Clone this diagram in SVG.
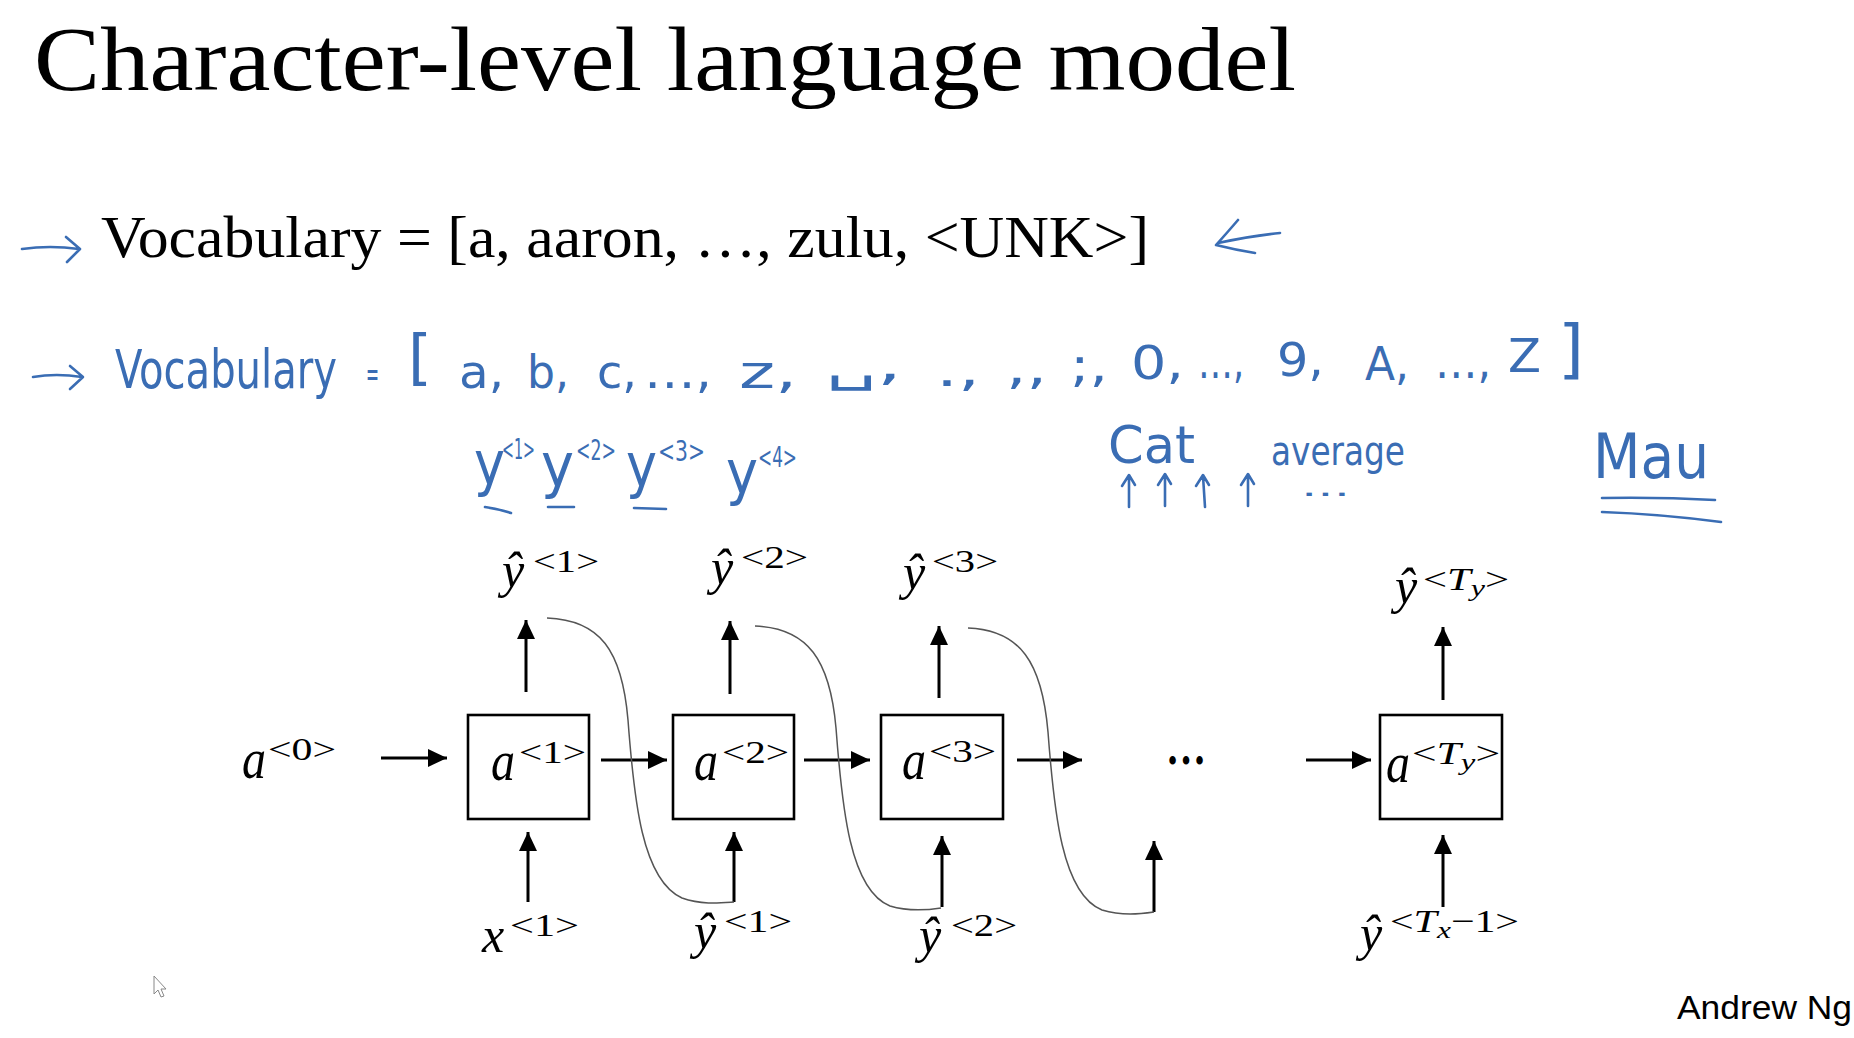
<svg xmlns="http://www.w3.org/2000/svg" width="1854" height="1038" viewBox="0 0 1854 1038">
<style>
  .serif{font-family:"Liberation Serif","Times New Roman",serif;fill:#000}
  .it{font-style:italic}
  .var{font-family:"Liberation Serif",serif;font-style:italic;font-size:50px;fill:#000}
  .avar{font-family:"Liberation Serif",serif;font-style:italic;font-size:56px;fill:#000}
  .sup{font-family:"Liberation Serif",serif;font-size:32px;fill:#000}
  .box{fill:#fff;stroke:#000;stroke-width:2.6}
  .arr{stroke:#000;stroke-width:3;fill:none}
  .curve{stroke:#555;stroke-width:1.5;fill:none}
  .hw{font-family:"Liberation Sans Narrow","DejaVu Sans Condensed","Liberation Sans",sans-serif;fill:#3a6db4}
  .hws{stroke:#3a6db4;stroke-width:2.6;fill:none;stroke-linecap:round;stroke-linejoin:round}
</style>
<defs>
  <marker id="ah" markerUnits="userSpaceOnUse" markerWidth="20" markerHeight="18" refX="19" refY="9" orient="auto">
    <path d="M0,0 L19,9 L0,18 Z" fill="#000"/>
  </marker>
</defs>
<rect width="1854" height="1038" fill="#fff"/>

<!-- Title -->
<text class="serif" x="34" y="90" font-size="92" textLength="1262" lengthAdjust="spacingAndGlyphs">Character-level language model</text>

<!-- Line 2 -->
<g id="vocab-words">
  <path class="hws" d="M22,249 Q50,245 79,249 M66,237 L80,249 L67,262"/>
  <text class="serif" x="101" y="257" font-size="60" textLength="1048" lengthAdjust="spacingAndGlyphs">Vocabulary = [a, aaron, …, zulu, &lt;UNK&gt;]</text>
  <path class="hws" d="M1238,220 Q1226,234 1216,245 Q1236,250 1255,253 M1218,243 Q1250,236 1280,233"/>
</g>

<!-- Line 3 handwritten -->
<g id="vocab-chars">
  <path class="hws" d="M33,377 Q56,373 82,377 M70,366 L83,377 L70,389"/>
  <text class="hw" x="115" y="388" font-size="54" textLength="222" lengthAdjust="spacingAndGlyphs">Vocabulary</text>
  <text class="hw" x="366" y="386" font-size="36" textLength="13" lengthAdjust="spacingAndGlyphs">=</text>
  <text class="hw" x="408" y="378" font-size="60" textLength="24" lengthAdjust="spacingAndGlyphs">[</text>
  <text class="hw" x="459" y="388" font-size="46" textLength="45" lengthAdjust="spacingAndGlyphs">a,</text>
  <text class="hw" x="527" y="388" font-size="46" textLength="42" lengthAdjust="spacingAndGlyphs">b,</text>
  <text class="hw" x="597" y="388" font-size="46" textLength="40" lengthAdjust="spacingAndGlyphs">c,</text>
  <text class="hw" x="644" y="388" font-size="46" textLength="68" lengthAdjust="spacingAndGlyphs">…,</text>
  <text class="hw" x="739" y="388" font-size="46" textLength="58" lengthAdjust="spacingAndGlyphs">z,</text>
  <text class="hw" x="826" y="380" font-size="46" textLength="76" lengthAdjust="spacingAndGlyphs">␣,</text>
  <text class="hw" x="936" y="386" font-size="46" textLength="44" lengthAdjust="spacingAndGlyphs">.,</text>
  <text class="hw" x="1006" y="384" font-size="46" textLength="41" lengthAdjust="spacingAndGlyphs">,,</text>
  <text class="hw" x="1070" y="382" font-size="46" textLength="38" lengthAdjust="spacingAndGlyphs">;,</text>
  <text class="hw" x="1131" y="379" font-size="46" textLength="53" lengthAdjust="spacingAndGlyphs">0,</text>
  <text class="hw" x="1198" y="378" font-size="46" textLength="46" lengthAdjust="spacingAndGlyphs">…,</text>
  <text class="hw" x="1277" y="376" font-size="46" textLength="47" lengthAdjust="spacingAndGlyphs">9,</text>
  <text class="hw" x="1365" y="380" font-size="46" textLength="44" lengthAdjust="spacingAndGlyphs">A,</text>
  <text class="hw" x="1435" y="378" font-size="46" textLength="56" lengthAdjust="spacingAndGlyphs">…,</text>
  <text class="hw" x="1508" y="372" font-size="46" textLength="33" lengthAdjust="spacingAndGlyphs">Z</text>
  <text class="hw" x="1558" y="371" font-size="64" textLength="26" lengthAdjust="spacingAndGlyphs">]</text>
</g>

<!-- handwritten y row -->
<g id="y-examples">
  <text class="hw" x="474" y="484" font-size="60" textLength="31" lengthAdjust="spacingAndGlyphs">y</text>
  <text class="hw" x="502" y="459" font-size="28" textLength="33" lengthAdjust="spacingAndGlyphs">&lt;1&gt;</text>
  <text class="hw" x="541" y="486" font-size="60" textLength="33" lengthAdjust="spacingAndGlyphs">y</text>
  <text class="hw" x="576" y="460" font-size="28" textLength="40" lengthAdjust="spacingAndGlyphs">&lt;2&gt;</text>
  <text class="hw" x="626" y="486" font-size="60" textLength="31" lengthAdjust="spacingAndGlyphs">y</text>
  <text class="hw" x="658" y="461" font-size="28" textLength="47" lengthAdjust="spacingAndGlyphs">&lt;3&gt;</text>
  <text class="hw" x="726" y="493" font-size="60" textLength="32" lengthAdjust="spacingAndGlyphs">y</text>
  <text class="hw" x="758" y="467" font-size="28" textLength="39" lengthAdjust="spacingAndGlyphs">&lt;4&gt;</text>
  <path class="hws" d="M485,507 Q498,509 511,513 M548,507 L574,507 M634,508 L666,509"/>
</g>

<g id="cat-example">
  <text class="hw" x="1108" y="463" font-size="52" textLength="87" lengthAdjust="spacingAndGlyphs">Cat</text>
  <path class="hws" d="M1129,507 L1129,476 M1122,486 L1129,475 L1135,485 M1165,506 L1165,475 M1158,485 L1165,474 L1171,484 M1205,507 L1203,476 M1196,486 L1203,475 L1209,485 M1248,506 L1248,475 M1241,485 L1248,474 L1254,484"/>
  <text class="hw" x="1271" y="465" font-size="40" textLength="134" lengthAdjust="spacingAndGlyphs">average</text>
  <text class="hw" x="1301" y="496" font-size="26" textLength="49" lengthAdjust="spacingAndGlyphs">...</text>
</g>

<g id="mau-example">
  <text class="hw" x="1593" y="478" font-size="62" textLength="116" lengthAdjust="spacingAndGlyphs">Mau</text>
  <path class="hws" d="M1602,498 Q1660,497 1715,500 M1602,512 Q1660,514 1721,522"/>
</g>

<!-- Connectors -->
<g id="connectors">
  <line class="arr" x1="381" y1="758" x2="447" y2="758" marker-end="url(#ah)"/>
  <line class="arr" x1="601" y1="760" x2="667" y2="760" marker-end="url(#ah)"/>
  <line class="arr" x1="804" y1="760" x2="870" y2="760" marker-end="url(#ah)"/>
  <line class="arr" x1="1017" y1="760" x2="1082" y2="760" marker-end="url(#ah)"/>
  <line class="arr" x1="1306" y1="760" x2="1371" y2="760" marker-end="url(#ah)"/>
  <line class="arr" x1="526" y1="692" x2="526" y2="620" marker-end="url(#ah)"/>
  <line class="arr" x1="730" y1="694" x2="730" y2="621" marker-end="url(#ah)"/>
  <line class="arr" x1="939" y1="698" x2="939" y2="626" marker-end="url(#ah)"/>
  <line class="arr" x1="1443" y1="700" x2="1443" y2="627" marker-end="url(#ah)"/>
  <line class="arr" x1="528" y1="902" x2="528" y2="832" marker-end="url(#ah)"/>
  <line class="arr" x1="734" y1="902" x2="734" y2="832" marker-end="url(#ah)"/>
  <line class="arr" x1="942" y1="907" x2="942" y2="836" marker-end="url(#ah)"/>
  <line class="arr" x1="1154" y1="912" x2="1154" y2="841" marker-end="url(#ah)"/>
  <line class="arr" x1="1443" y1="907" x2="1443" y2="835" marker-end="url(#ah)"/>
  <path class="curve" d="M547,618 C600,620 622,650 628,720 C634,800 642,880 682,898 C702,905 720,903 734,902"/>
  <path class="curve" d="M755,626 C808,628 830,660 836,728 C842,808 850,890 890,906 C910,912 928,910 941,908"/>
  <path class="curve" d="M968,628 C1020,630 1042,662 1048,732 C1054,812 1062,894 1102,910 C1122,916 1140,914 1154,912"/>
</g>

<!-- Nodes -->
<g id="a0">
  <text class="avar" x="242" y="778" textLength="24" lengthAdjust="spacingAndGlyphs">a</text>
  <text class="sup" x="268" y="760" textLength="68" lengthAdjust="spacingAndGlyphs">&lt;0&gt;</text>
</g>
<g id="cell1">
  <rect class="box" x="468" y="715" width="121" height="104"/>
  <text class="avar" x="491" y="780" textLength="24" lengthAdjust="spacingAndGlyphs">a</text>
  <text class="sup" x="519" y="763" textLength="67" lengthAdjust="spacingAndGlyphs">&lt;1&gt;</text>
</g>
<g id="cell2">
  <rect class="box" x="673" y="715" width="121" height="104"/>
  <text class="avar" x="694" y="780" textLength="24" lengthAdjust="spacingAndGlyphs">a</text>
  <text class="sup" x="722" y="763" textLength="67" lengthAdjust="spacingAndGlyphs">&lt;2&gt;</text>
</g>
<g id="cell3">
  <rect class="box" x="881" y="715" width="122" height="104"/>
  <text class="avar" x="902" y="779" textLength="24" lengthAdjust="spacingAndGlyphs">a</text>
  <text class="sup" x="929" y="762" textLength="67" lengthAdjust="spacingAndGlyphs">&lt;3&gt;</text>
</g>
<g id="ellipsis">
  <text class="serif" x="1166" y="764" font-size="52" font-weight="bold" textLength="40" lengthAdjust="spacingAndGlyphs">…</text>
</g>
<g id="cellTy">
  <rect class="box" x="1380" y="715" width="122" height="104"/>
  <text class="avar" x="1386" y="782" textLength="24" lengthAdjust="spacingAndGlyphs">a</text>
  <text class="sup" x="1412" y="764" textLength="88" lengthAdjust="spacingAndGlyphs">&lt;<tspan class="it">T</tspan><tspan class="it" font-size="24" dy="6">y</tspan><tspan dy="-6">&gt;</tspan></text>
</g>

<g id="yhat1-out">
  <text class="var" x="502" y="587">ŷ</text>
  <text class="sup" x="533" y="572" textLength="66" lengthAdjust="spacingAndGlyphs">&lt;1&gt;</text>
</g>
<g id="yhat2-out">
  <text class="var" x="711" y="584">ŷ</text>
  <text class="sup" x="741" y="568" textLength="67" lengthAdjust="spacingAndGlyphs">&lt;2&gt;</text>
</g>
<g id="yhat3-out">
  <text class="var" x="903" y="589">ŷ</text>
  <text class="sup" x="932" y="572" textLength="66" lengthAdjust="spacingAndGlyphs">&lt;3&gt;</text>
</g>
<g id="yhatTy-out">
  <text class="var" x="1395" y="603">ŷ</text>
  <text class="sup" x="1423" y="590" textLength="86" lengthAdjust="spacingAndGlyphs">&lt;<tspan class="it">T</tspan><tspan class="it" font-size="24" dy="6">y</tspan><tspan dy="-6">&gt;</tspan></text>
</g>

<g id="x1-in">
  <text class="var" x="482" y="952">x</text>
  <text class="sup" x="510" y="936" textLength="69" lengthAdjust="spacingAndGlyphs">&lt;1&gt;</text>
</g>
<g id="yhat1-in">
  <text class="var" x="694" y="948">ŷ</text>
  <text class="sup" x="724" y="932" textLength="68" lengthAdjust="spacingAndGlyphs">&lt;1&gt;</text>
</g>
<g id="yhat2-in">
  <text class="var" x="919" y="952">ŷ</text>
  <text class="sup" x="951" y="936" textLength="66" lengthAdjust="spacingAndGlyphs">&lt;2&gt;</text>
</g>
<g id="yhatTx-in">
  <text class="var" x="1360" y="950">ŷ</text>
  <text class="sup" x="1390" y="932" textLength="129" lengthAdjust="spacingAndGlyphs">&lt;<tspan class="it">T</tspan><tspan class="it" font-size="24" dy="6">x</tspan><tspan dy="-6">−1&gt;</tspan></text>
</g>

<text x="1677" y="1019" font-family="Liberation Sans, Arial, sans-serif" font-size="33" fill="#000" textLength="175" lengthAdjust="spacingAndGlyphs">Andrew Ng</text>

<path d="M154,976 L154,994 L158,990 L161,997 L164,996 L161,989 L166,989 Z" fill="#fff" stroke="#888" stroke-width="1"/>
</svg>
